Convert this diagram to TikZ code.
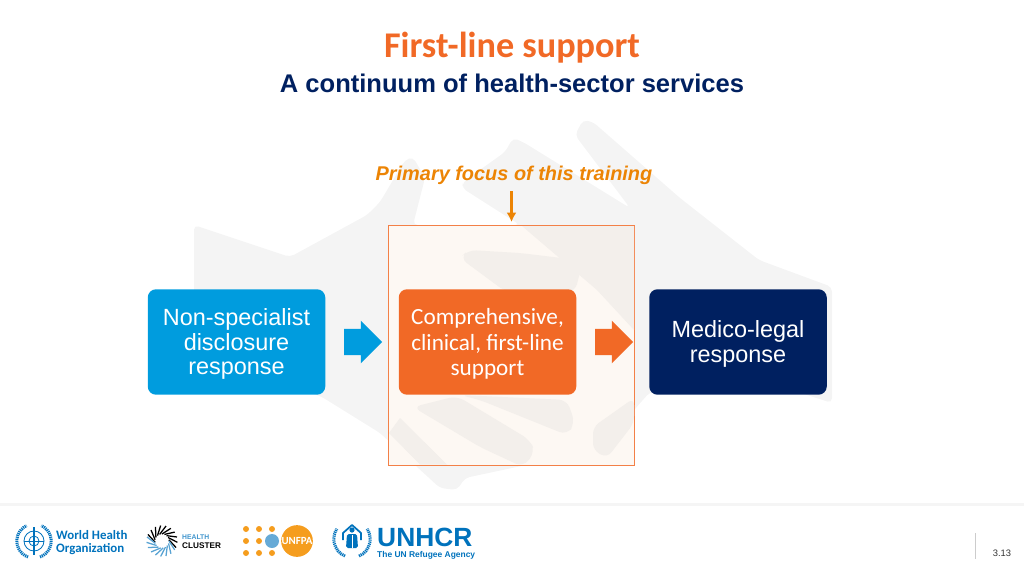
\documentclass[tikz,border=0pt]{standalone}
\usepackage{fontspec}
\setmainfont{Liberation Sans}
\newfontfamily\carlito{Carlito}
\definecolor{whoorange}{RGB}{241,105,38}
\definecolor{whoamber}{RGB}{236,132,4}
\definecolor{whoblue}{RGB}{0,156,222}
\definecolor{whonavy}{RGB}{0,32,96}
\definecolor{logoblue}{RGB}{0,114,188}
\definecolor{unfpaorange}{RGB}{245,157,30}
\definecolor{handgrey}{RGB}{244,244,244}
\definecolor{handdark}{RGB}{243,239,235}
\definecolor{framefill}{RGB}{253,248,243}
\usetikzlibrary{arrows.meta}
\usetikzlibrary{calc}
\usetikzlibrary{positioning}
\usetikzlibrary{shapes.arrows}
\tikzset{
  stepbox/.style={rounded corners=7pt, minimum width=151.5pt, minimum height=90pt, text=white, align=center, inner sep=0pt},
  flowarrow/.style={single arrow, minimum width=36pt, minimum height=32.5pt, single arrow head extend=7pt, single arrow tip angle=90, inner xsep=0pt, inner ysep=11pt},
  logotext/.style={text=logoblue, inner sep=0pt, anchor=west},
  wreath/.style={logoblue, line width=2.6pt, dash pattern=on 1pt off 0.7pt}
}

\begin{document}
\begin{tikzpicture}[x=0.03cm, y=-0.03cm]
  \useasboundingbox (0,0) rectangle (1024,576);

  % hands behind the boxes
  \fill [handgrey, rounded corners=4pt] (194,225) -- (290,257) -- (367,215) -- (380,202) -- (405,160) -- (413,157) -- (425,178) -- (413,225) -- (520,225) -- (462,188) -- (463,182) -- (505,152) -- (513,138) -- (523,142) -- (630,208) -- (575,135) -- (583,120) -- (593,122) -- (680,198) -- (759,260) -- (832,287) -- (832,403) -- (745,375) -- (650,392) -- (634,410) -- (620,445) -- (465,478) -- (457,490) -- (440,488) -- (380,433) -- (322,397) -- (194,345) -- cycle;

  % frame round the middle box
  \node [draw=whoorange!85, fill=framefill, minimum width=210pt, minimum height=205pt, inner sep=0pt, line width=0.7pt] (frame) at (511.5,345) {};

  % darker fingers inside the frame
  \fill [handdark, rounded corners=7pt] (460,258) -- (468,250) -- (520,253) -- (578,260) -- (581,268) -- (575,292) -- (506,292) -- cycle;
  \fill [handdark] (522,226) -- (634,226) -- (634,330) -- (597,290) -- cycle;
  \fill [handdark, rounded corners=7pt] (413,407) -- (457,396) -- (530,440) -- (535,452) -- (523,467) -- (480,447) -- cycle;
  \fill [handdark, rounded corners=7pt] (460,395) -- (567,400) -- (575,423) -- (567,435) -- (480,400) -- cycle;
  \fill [handdark, rounded corners=6pt] (634,398) -- (593,427) -- (593,450) -- (607,458) -- (634,423) -- cycle;
  \fill [handdark] (389,433) -- (400,418) -- (447,464.5) -- (420,464.5) -- cycle;

  % title
  \node [text=whoorange, font=\carlito\bfseries\fontsize{30.9pt}{33pt}\selectfont] (title) at (512,48) {First-line support};
  \node [text=whonavy, font=\bfseries\fontsize{21.8pt}{24pt}\selectfont] (subtitle) at (512,83) {A continuum of health-sector services};

  % focus label
  \node [text=whoamber, font=\bfseries\itshape\fontsize{17pt}{20pt}\selectfont] (focus) at (514,175) {Primary focus of this training};
  \coordinate (focustip) at (511.5,222);
  \draw [-{Latex[length=8pt,width=8.5pt]}, whoamber, line width=2pt] (511.5,191) -- (focustip);

  % the three boxes
  \node [stepbox, fill=whoblue, font=\fontsize{20pt}{21pt}\selectfont] (nonspec) at (236.5,342) {\rule{0pt}{18pt}Non-specialist\\disclosure\\response};
  \node [stepbox, fill=whoorange, font=\carlito\fontsize{19.8pt}{22pt}\selectfont] (clinical) at (487.5,342) {\rule{0pt}{17pt}Comprehensive,\\clinical, first-line\\support};
  \node [stepbox, fill=whonavy, font=\fontsize{20pt}{21pt}\selectfont] (medico) at (738,342) {\rule{0pt}{18pt}Medico-legal\\response};

  % block arrows
  \node [flowarrow, fill=whoblue] (arrowa) at (356.5,342) {};
  \node [flowarrow, fill=whoorange] (arrowb) at (607.5,342) {};

  % footer
  \fill [black!4] (0,503) rectangle (1024,506);
  \draw [black!20, line width=0.6pt] (975.5,533) -- (975.5,559);
  \node [font=\fontsize{8pt}{9pt}\selectfont, text=black!80] (pagenum) at (1002,553) {3.13};

  % WHO logo
  \foreach \r in {5,10} \draw [logoblue, line width=0.7pt] (34,541) circle (\r);
  \draw [logoblue, line width=1pt] (34,527) -- (34,555);
  \draw [logoblue, line width=0.7pt] (24,541) -- (44,541);
  \draw [wreath] (28,557) arc (110:245:17);
  \draw [wreath] (40,557) arc (70:-65:17);
  \node [logotext, font=\carlito\bfseries\fontsize{11pt}{11.5pt}\selectfont, align=left] (who) at (56,542.5) {World Health\\Organization};

  % health cluster logo
  \foreach \a in {170,190,...,350} \draw [black, line width=1.1pt] ($(162,541)+(\a:7)$) -- ($(162,541)+(\a+35:15.5)$);
  \foreach \a in {0,20,...,160} \draw [logoblue!65, line width=1.1pt] ($(162,541)+(\a:7)$) -- ($(162,541)+(\a+35:15.5)$);
  \node [logotext, text=logoblue!75, font=\bfseries\fontsize{5.8pt}{7pt}\selectfont] (health) at (182,537.5) {HEALTH};
  \node [logotext, text=black, font=\bfseries\fontsize{7pt}{8pt}\selectfont] (cluster) at (182,546) {CLUSTER};

  % unfpa logo
  \foreach \x in {246,259,272} \foreach \y in {529,541,553} \fill [unfpaorange] (\x,\y) circle (3);
  \fill [white] (272,541) circle (8);
  \fill [logoblue!60] (272,541) circle (7);
  \node [circle, fill=unfpaorange, minimum size=25.6pt, inner sep=0pt, text=white, font=\carlito\bfseries\fontsize{9.3pt}{10pt}\selectfont] (unfpa) at (297,541) {UNFPA};

  % unhcr logo
  \draw [wreath] (345,556) arc (110:215:17 and 18);
  \draw [wreath] (359,556) arc (70:-35:17 and 18);
  \draw [logoblue, line width=1.5pt, line join=round] (343,540) -- (343,533) -- (352,525) -- (361,533) -- (361,540);
  \fill [logoblue] (352,530) circle (2.6);
  \fill [logoblue, rounded corners=1.5pt] (347,534) -- (357,534) -- (358,548) -- (346,548) -- cycle;
  \draw [white, line width=0.7pt] (352,535) -- (352,548);
  \node [logotext, font=\bfseries\fontsize{22.5pt}{24pt}\selectfont] (unhcr) at (377,537) {UNHCR};
  \node [logotext, font=\bfseries\fontsize{7.2pt}{8pt}\selectfont] (agency) at (377,555.5) {The UN Refugee Agency};
\end{tikzpicture}
\end{document}
